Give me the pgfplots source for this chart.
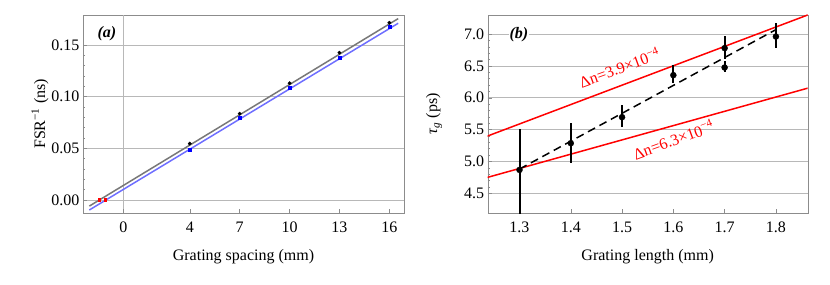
\documentclass[border=0pt]{standalone}
\usepackage{pgfplots}
\pgfplotsset{compat=1.18}
\usepackage{fontspec}
\setmainfont{Liberation Serif}
\definecolor{lblue}{RGB}{110,110,255}
\definecolor{lgray}{RGB}{120,120,120}
\begin{document}
\begin{tikzpicture}
\path[use as bounding box] (0,0) rectangle (830pt,284pt);
\pgfplotsset{
 common/.style={scale only axis, anchor=south west,
  /pgf/number format/assume math mode=true,
  tick label style={font=\fontsize{16}{19}\selectfont},
  tick align=inside, major tick length=4pt, minor tick length=2pt,
  xtick pos=bottom, ytick pos=left,
  axis line style={black!45}, every tick/.style={black!45, line width=0.5pt},
  ymajorgrids, major grid style={black!28, line width=0.6pt},
  xticklabel style={yshift=-5pt},
  every axis x label/.style={at={(axis description cs:0.5,-0.22)}, anchor=center, font=\fontsize{16}{19}\selectfont},
 }
}
\begin{axis}[common, at={(83pt,71pt)}, width=321pt, height=198pt,
  xmin=-2.42, xmax=16.88, ymin=-0.0126, ymax=0.179,
  xtick={4,7,10,13,16}, extra x ticks={0}, extra x tick style={grid=major},
  ytick={0,0.05,0.1,0.15}, minor y tick num=4,
  yticklabel style={/pgf/number format/fixed, /pgf/number format/fixed zerofill, /pgf/number format/precision=2},
  xlabel={Grating spacing (mm)},
  ylabel={FSR\textsuperscript{−1} (ns)},
  every axis y label/.style={at={(axis description cs:-0.134,0.5)}, rotate=90, anchor=center, font=\fontsize{16}{19}\selectfont},
]
\addplot[lgray, line width=1.5pt] coordinates {(-2.04,-0.00593) (16.53,0.1755)};
\addplot[lblue, line width=1.5pt] coordinates {(-2.04,-0.0097) (16.53,0.1710)};
\addplot[only marks, mark=*, mark size=1.7pt, black] coordinates {(4,0.0545)(7,0.0835)(10,0.113)(13,0.1425)(16,0.1715)};
\addplot[only marks, mark=square*, mark size=1.4pt, blue] coordinates {(4,0.049)(7,0.0795)(10,0.1085)(13,0.1375)(16,0.1675)};
\addplot[only marks, mark=square*, mark size=1.4pt, red] coordinates {(-1.44,0)(-1.08,0)};
\node[font=\fontsize{16}{19}\selectfont\bfseries\itshape] at (axis cs:-0.98,0.1606) {(a)};
\end{axis}
\begin{axis}[common, at={(487.7pt,71pt)}, width=320pt, height=198pt,
  xmin=1.238, xmax=1.862, ymin=4.19, ymax=7.30,
  xtick={1.3,1.4,1.5,1.6,1.7,1.8}, ytick={4.5,5,5.5,6,6.5,7}, minor y tick num=4,
  xticklabel style={/pgf/number format/fixed, /pgf/number format/fixed zerofill, /pgf/number format/precision=1},
  yticklabel style={/pgf/number format/fixed, /pgf/number format/fixed zerofill, /pgf/number format/precision=1},
  xlabel={Grating length (mm)},
  ylabel={\textit{τ}\textsubscript{\textit{g}} (ps)},
  every axis y label/.style={at={(axis description cs:-0.168,0.5)}, rotate=90, anchor=center, font=\fontsize{16}{19}\selectfont},
]
\addplot[red, line width=1.5pt] coordinates {(1.20,5.284) (1.90,7.416)};
\addplot[red, line width=1.5pt] coordinates {(1.20,4.665) (1.90,6.236)};
\addplot[black, line width=1.5pt, dash pattern=on 8pt off 5pt] coordinates {(1.3,4.88) (1.8,7.07)};
\addplot[only marks, mark=*, mark size=3pt, black,
  error bars/.cd, y dir=both, y explicit, error mark=none,
  error bar style={line width=2pt, black}]
  coordinates {
  (1.3,4.867) += (0,0.643) -= (0,0.70)
  (1.4,5.286) += (0,0.324) -= (0,0.306)
  (1.5,5.695) += (0,0.194) -= (0,0.157)
  (1.6,6.355) += (0,0.16) -= (0,0.125)
  (1.7,6.78) += (0,0.193) -= (0,0.17)
  (1.7,6.475) += (0,0.095) -= (0,0.075)
  (1.8,6.962) += (0,0.218) -= (0,0.182)
  };
\node[red, rotate=20, font=\fontsize{16}{19}\selectfont] at (axis cs:1.495,6.48) {Δn=3.9×10\textsuperscript{−4}};
\node[red, rotate=20, font=\fontsize{16}{19}\selectfont] at (axis cs:1.6,5.349) {Δn=6.3×10\textsuperscript{−4}};
\node[fill=white, inner sep=1pt, font=\fontsize{16}{19}\selectfont\bfseries\itshape] at (axis cs:1.299,6.99) {(b)};
\end{axis}
\end{tikzpicture}
\end{document}
